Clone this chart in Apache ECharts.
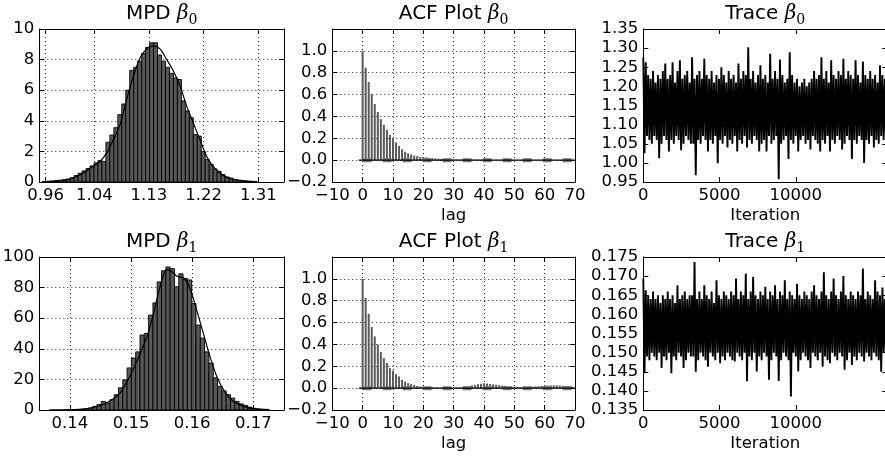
<!DOCTYPE html>
<html>
<head>
<meta charset="utf-8">
<script src="https://cdn.jsdelivr.net/npm/echarts@6/dist/echarts.min.js"></script>
<style>
  html, body { margin: 0; padding: 0; background: #fff; }
  #main { width: 885px; height: 457px; }
</style>
</head>
<body>
<div id="main"></div>
<script>
// ---- MPD beta0 histogram (bin start, bin width, heights) + density curve
var histB0Start = 0.9545, histB0Width = 0.00654;
var histB0 = [0.03, 0.05, 0.07, 0.09, 0.12, 0.15, 0.2, 0.28, 0.42, 0.57, 0.72, 0.88, 1.05, 1.25, 1.4, 1.35,
  2.6, 3.07, 3.55, 4.4, 5.1, 6.0, 7.3, 7.5, 7.9, 8.4, 8.8, 9.1, 9.1, 8.3, 7.9, 7.5, 7.1, 6.8, 6.7, 5.3,
  4.65, 4.2, 3.1, 3.0, 2.0, 1.47, 1.14, 0.85, 0.7, 0.48, 0.33, 0.26, 0.15, 0.12, 0.09, 0.06, 0.04, 0.02];
var kdeB0X = [0.955, 0.975, 0.9946, 1.0165, 1.033, 1.0494, 1.0605, 1.0713, 1.0824, 1.0934, 1.1042, 1.1153, 1.1263, 1.1372,
  1.1482, 1.1592, 1.1701, 1.1811, 1.1921, 1.203, 1.214, 1.2251, 1.236, 1.247, 1.258, 1.2689, 1.2853, 1.3074];
var kdeB0Y = [0.02, 0.05, 0.13, 0.46, 0.9, 1.34, 1.9, 2.76, 3.75, 5.4, 6.9, 8.1, 8.7, 8.9,
  8.7, 8.0, 7.26, 6.3, 4.96, 3.86, 2.76, 1.67, 1.0, 0.57, 0.3, 0.18, 0.07, 0.02];
var histB0Ticks = [0.96, 1.04, 1.13, 1.22, 1.31];

// ---- MPD beta1
var histB1Start = 0.136678, histB1Width = 0.000704;
var histB1 = [0.05, 0.08, 0.1, 0.15, 0.2, 0.3, 0.4, 0.5, 0.8, 1.3, 2.4, 3.5, 5.6, 4.6, 6.7, 10, 14.5, 19.7, 27.5, 34, 38,
  49, 50, 62, 70, 83.7, 91, 93.5, 92.4, 80.5, 89, 86, 85, 69.6, 55.5, 47, 38, 30.6, 21, 15.4, 12.5, 10, 7.8, 5.6,
  4.0, 3.0, 1.8, 1.1, 0.6, 0.3, 0.15];
var kdeB1X = [0.1395, 0.1422, 0.1449, 0.1465, 0.1482, 0.1498, 0.1515, 0.1526, 0.1536, 0.1547, 0.1558, 0.1566,
  0.1575, 0.1586, 0.1596, 0.1607, 0.1618, 0.1629, 0.164, 0.1651, 0.1667, 0.1684, 0.17, 0.1726];
var kdeB1Y = [0.2, 0.65, 2.8, 5.7, 11, 22, 37, 48, 62, 80, 91.7, 90.6,
  87.4, 86.3, 79.7, 65.6, 50.3, 35, 22, 13.3, 5.7, 2.4, 0.9, 0.2];
var histB1Ticks = [0.14, 0.15, 0.16, 0.17];

// ---- autocorrelation, lag = index
var acfB0 = [1.0, 0.846, 0.714, 0.606, 0.514, 0.44, 0.375, 0.323, 0.277, 0.23, 0.2, 0.163, 0.13, 0.1, 0.077,
  0.062, 0.052, 0.043, 0.037, 0.031, 0.028, 0.025, 0.02, 0.018, 0.015, 0.013, 0.011, 0.01, 0.009, 0.008,
  0.006, 0.005, 0.004, 0.004, 0.003, 0.003, 0.002, 0.003, 0.004, 0.003, 0.002, 0.002, 0.001, 0.002, 0.003,
  0.002, 0.002, 0.001, 0.001, 0.002, 0.001, 0.0, 0.001, 0.002, 0.001, 0.001, 0.0, 0.001, 0.002, 0.001,
  0.001, 0.0, 0.001, 0.001, 0.002, 0.001, 0.0, 0.001, 0.001, 0.0];
var acfB1 = [1.0, 0.826, 0.68, 0.56, 0.474, 0.4, 0.33, 0.275, 0.23, 0.183, 0.16, 0.128, 0.107, 0.076, 0.06,
  0.046, 0.037, 0.028, 0.02, 0.015, 0.012, 0.01, 0.008, 0.006, 0.005, 0.004, 0.003, 0.002, 0.002, 0.003,
  0.004, 0.005, 0.007, 0.01, 0.015, 0.02, 0.025, 0.03, 0.036, 0.04, 0.045, 0.042, 0.038, 0.034, 0.03,
  0.027, 0.024, 0.021, 0.018, 0.015, 0.013, 0.01, 0.008, 0.007, 0.008, 0.01, 0.013, 0.016, 0.018, 0.02,
  0.022, 0.024, 0.025, 0.026, 0.025, 0.024, 0.022, 0.02, 0.017, 0.014];
var acfXTicks = [-10, 0, 10, 20, 30, 40, 50, 60, 70];
var acfYTicks = [-0.2, 0.0, 0.2, 0.4, 0.6, 0.8, 1.0];

// ---- traces, one value every traceStep iterations
var traceStep = 80;
var traceB0 = [
  1.276, 1.025, 1.263, 1.07, 1.23, 1.06, 1.22, 1.05, 1.24, 1.07,
  1.21, 1.06, 1.23, 1.012, 1.22, 1.05, 1.24, 1.07, 1.26, 1.06,
  1.22, 1.03, 1.23, 1.06, 1.263, 1.05, 1.21, 1.07, 1.24, 1.06,
  1.268, 1.033, 1.22, 1.05, 1.23, 1.07, 1.24, 1.06, 1.21, 1.05,
  1.276, 1.05, 1.22, 0.968, 1.23, 1.06, 1.24, 1.05, 1.22, 1.07,
  1.272, 1.06, 1.23, 1.03, 1.22, 1.06, 1.24, 1.05, 1.21, 1.07,
  1.23, 0.999, 1.22, 1.06, 1.25, 1.05, 1.23, 1.07, 1.21, 1.04,
  1.24, 1.06, 1.22, 1.05, 1.23, 1.07, 1.21, 1.03, 1.26, 1.06,
  1.22, 1.05, 1.24, 1.07, 1.23, 1.04, 1.302, 1.06, 1.22, 1.05,
  1.24, 1.07, 1.21, 1.06, 1.23, 1.03, 1.255, 1.05, 1.22, 1.06,
  1.23, 1.03, 1.21, 1.07, 1.285, 1.05, 1.22, 1.06, 1.24, 1.07,
  1.22, 0.957, 1.27, 1.05, 1.23, 1.06, 1.21, 1.07, 1.22, 1.01,
  1.289, 1.06, 1.23, 1.05, 1.21, 1.07, 1.22, 1.03, 1.2, 1.06,
  1.21, 1.07, 1.22, 1.05, 1.2, 1.06, 1.21, 1.035, 1.22, 1.07,
  1.24, 1.06, 1.22, 1.05, 1.23, 1.03, 1.276, 1.06, 1.22, 1.05,
  1.24, 1.07, 1.21, 1.03, 1.268, 1.06, 1.23, 1.05, 1.22, 1.07,
  1.24, 1.06, 1.23, 1.035, 1.272, 1.05, 1.22, 1.07, 1.24, 1.06,
  1.23, 1.01, 1.22, 1.06, 1.268, 1.05, 1.23, 1.07, 1.21, 1.06,
  1.265, 1.0, 1.23, 1.06, 1.22, 1.05, 1.24, 1.07, 1.22, 1.04,
  1.23, 1.06, 1.21, 1.05, 1.255, 1.07, 1.23, 1.06, 1.22, 1.05];
var traceB1 = [
  0.1694, 0.1446, 0.1663, 0.149, 0.165, 0.148, 0.164, 0.150, 0.166, 0.149,
  0.164, 0.148, 0.165, 0.150, 0.163, 0.146, 0.165, 0.149, 0.164, 0.148,
  0.166, 0.150, 0.164, 0.1446, 0.165, 0.149, 0.163, 0.148, 0.1676, 0.150,
  0.164, 0.149, 0.165, 0.146, 0.166, 0.148, 0.164, 0.150, 0.165, 0.149,
  0.165, 0.149, 0.1737, 0.145, 0.164, 0.148, 0.166, 0.150, 0.164, 0.149,
  0.1676, 0.148, 0.165, 0.1463, 0.164, 0.150, 0.166, 0.149, 0.163, 0.148,
  0.1689, 0.150, 0.165, 0.1472, 0.164, 0.149, 0.166, 0.148, 0.165, 0.150,
  0.164, 0.149, 0.166, 0.148, 0.165, 0.1477, 0.1694, 0.150, 0.164, 0.149,
  0.166, 0.148, 0.165, 0.150, 0.1707, 0.1425, 0.164, 0.149, 0.166, 0.148,
  0.1698, 0.150, 0.165, 0.1451, 0.164, 0.149, 0.166, 0.148, 0.165, 0.150,
  0.1672, 0.149, 0.164, 0.1429, 0.166, 0.148, 0.165, 0.150, 0.1676, 0.149,
  0.164, 0.1426, 0.166, 0.148, 0.165, 0.150, 0.1689, 0.149, 0.164, 0.148,
  0.166, 0.1385, 0.165, 0.150, 0.164, 0.149, 0.168, 0.1451, 0.165, 0.148,
  0.164, 0.150, 0.166, 0.149, 0.165, 0.148, 0.164, 0.146, 0.166, 0.150,
  0.1676, 0.149, 0.165, 0.148, 0.164, 0.150, 0.166, 0.1463, 0.171, 0.149,
  0.165, 0.148, 0.164, 0.1472, 0.166, 0.150, 0.1694, 0.149, 0.165, 0.148,
  0.164, 0.150, 0.166, 0.149, 0.170, 0.1455, 0.165, 0.148, 0.164, 0.150,
  0.166, 0.1468, 0.165, 0.149, 0.164, 0.148, 0.166, 0.150, 0.165, 0.149,
  0.172, 0.1477, 0.164, 0.150, 0.166, 0.149, 0.165, 0.148, 0.164, 0.150,
  0.1689, 0.149, 0.166, 0.148, 0.165, 0.145, 0.167, 0.150, 0.164, 0.149];
var traceXTicks = [0, 5000, 10000];
var traceB0Ticks = [0.95, 1.0, 1.05, 1.1, 1.15, 1.2, 1.25, 1.3, 1.35];
var traceB1Ticks = [0.135, 0.14, 0.145, 0.15, 0.155, 0.16, 0.165, 0.17, 0.175];

var FONT = "DejaVu Sans";
var FS = 16.5;

function minus(s) { return String(s).replace("-", "\u2212"); }

var grids = [
  { left: 39.3, top: 29, width: 244.7, height: 153 },
  { left: 332.3, top: 29, width: 242.7, height: 153 },
  { left: 643.3, top: 29, width: 244, height: 153 },
  { left: 39.3, top: 257, width: 244.7, height: 153 },
  { left: 332.3, top: 257, width: 242.7, height: 153 },
  { left: 643.3, top: 257, width: 244, height: 153 }
];

var xAxes = [], yAxes = [];
function addAxes(gi, xc, yc) {
  var tick = { show: true, inside: true, length: 5, lineStyle: { color: "#000", width: 1 } };
  var line = { show: true, onZero: false, lineStyle: { color: "#000", width: 1 } };
  var split = { show: xc.grid, lineStyle: { color: "#222", width: 1, type: [1, 3] } };
  xAxes.push({
    gridIndex: gi, type: "value", position: "bottom", min: xc.min, max: xc.max,
    axisLine: line, axisTick: Object.assign({ customValues: xc.ticks }, tick),
    axisLabel: { customValues: xc.ticks, margin: 5, color: "#000", fontFamily: FONT, fontSize: FS,
      formatter: function (v) { return minus(xc.fmt(v)); } },
    splitLine: split,
    name: xc.name || "", nameLocation: "middle", nameGap: 25,
    nameTextStyle: { color: "#000", fontFamily: FONT, fontSize: FS }
  });
  xAxes.push({
    gridIndex: gi, type: "value", position: "top", min: xc.min, max: xc.max,
    axisLine: line, axisTick: Object.assign({ customValues: xc.ticks }, tick),
    axisLabel: { show: false }, splitLine: { show: false }
  });
  yAxes.push({
    gridIndex: gi, type: "value", position: "left", min: yc.min, max: yc.max,
    axisLine: line, axisTick: Object.assign({ customValues: yc.ticks }, tick),
    axisLabel: { customValues: yc.ticks, margin: 5, color: "#000", fontFamily: FONT, fontSize: FS,
      formatter: function (v) { return minus(yc.fmt(v)); } },
    splitLine: { show: yc.grid, lineStyle: { color: "#222", width: 1, type: [1, 3] } }
  });
  yAxes.push({
    gridIndex: gi, type: "value", position: "right", min: yc.min, max: yc.max,
    axisLine: line, axisTick: Object.assign({ customValues: yc.ticks }, tick),
    axisLabel: { show: false }, splitLine: { show: false }
  });
}

function f2(v) { return v.toFixed(2); }
function f1(v) { return v.toFixed(1); }
function f3(v) { return v.toFixed(3); }
function fi(v) { return String(Math.round(v)); }

addAxes(0, { min: 0.9495, max: 1.3523, ticks: histB0Ticks, fmt: f2, grid: true },
           { min: 0, max: 10, ticks: [0, 2, 4, 6, 8, 10], fmt: fi, grid: true });
addAxes(1, { min: -10, max: 70, ticks: acfXTicks, fmt: fi, grid: true, name: "lag" },
           { min: -0.2, max: 1.2, ticks: acfYTicks, fmt: f1, grid: true });
addAxes(2, { min: 0, max: 16000, ticks: traceXTicks, fmt: fi, grid: false, name: "Iteration" },
           { min: 0.95, max: 1.35, ticks: traceB0Ticks, fmt: f2, grid: false });
addAxes(3, { min: 0.135, max: 0.175, ticks: histB1Ticks, fmt: f2, grid: true },
           { min: 0, max: 100, ticks: [0, 20, 40, 60, 80, 100], fmt: fi, grid: true });
addAxes(4, { min: -10, max: 70, ticks: acfXTicks, fmt: fi, grid: true, name: "lag" },
           { min: -0.2, max: 1.2, ticks: acfYTicks, fmt: f1, grid: true });
addAxes(5, { min: 0, max: 16000, ticks: traceXTicks, fmt: fi, grid: false, name: "Iteration" },
           { min: 0.135, max: 0.175, ticks: traceB1Ticks, fmt: f3, grid: false });

function histSeries(gi, start, width, heights) {
  return {
    type: "custom", xAxisIndex: 2 * gi, yAxisIndex: 2 * gi, clip: true,
    data: heights.map(function (h, i) { return [start + i * width, start + (i + 1) * width, h]; }),
    encode: { x: [0, 1], y: 2 },
    renderItem: function (params, api) {
      var p0 = api.coord([api.value(0), api.value(2)]);
      var p1 = api.coord([api.value(1), 0]);
      return {
        type: "rect",
        shape: { x: p0[0], y: p0[1], width: p1[0] - p0[0], height: p1[1] - p0[1] },
        style: { fill: "#585858", stroke: "#000", lineWidth: 0.9 }
      };
    }
  };
}
function kdeSeries(gi, xs, ys) {
  return {
    type: "line", xAxisIndex: 2 * gi, yAxisIndex: 2 * gi, smooth: 0.3, symbol: "none",
    data: xs.map(function (x, i) { return [x, ys[i]]; }),
    lineStyle: { color: "#000", width: 1.2 }, z: 3
  };
}
function acfSeries(gi, vals) {
  return [
    {
      type: "bar", xAxisIndex: 2 * gi, yAxisIndex: 2 * gi, barWidth: 2,
      data: vals.map(function (v, i) { return [i, v]; }),
      itemStyle: { color: "#5a5a5a" }
    },
    {
      type: "line", xAxisIndex: 2 * gi, yAxisIndex: 2 * gi, symbol: "none",
      data: [[0, 0], [70, 0]],
      lineStyle: { color: "#7a7a7a", width: 4, type: [9, 11] }, z: 3
    },
    {
      type: "line", xAxisIndex: 2 * gi, yAxisIndex: 2 * gi, symbol: "none",
      data: [[-1.3, 0], [70, 0]],
      lineStyle: { color: "#000", width: 1.3 }, z: 4
    }
  ];
}
function traceSeries(gi, vals) {
  return {
    type: "line", xAxisIndex: 2 * gi, yAxisIndex: 2 * gi, symbol: "none", sampling: null,
    data: vals.map(function (v, i) { return [i * traceStep, v]; }),
    lineStyle: { color: "#000", width: 1.9, join: "miter" }
  };
}

var rich = {
  t: { fontFamily: FONT, fontSize: 20, lineHeight: 26, color: "#000" },
  b: { fontFamily: "DejaVu Serif", fontStyle: "italic", fontSize: 20, lineHeight: 26, color: "#000" },
  s: { fontFamily: "DejaVu Serif", fontSize: 14, lineHeight: 14, verticalAlign: "bottom", color: "#000" }
};
function title(txt, sub, gi, top) {
  var g = grids[gi];
  return {
    text: "{t|" + txt + " }{b|\u03b2}{s|" + sub + "}",
    left: g.left + g.width / 2, top: top, textAlign: "center", padding: 0,
    textStyle: { rich: rich, fontFamily: FONT, fontSize: 20, fontWeight: "normal", color: "#000" }
  };
}

var chart = echarts.init(document.getElementById("main"), null, { renderer: "canvas" });
chart.setOption({
  animation: false,
  backgroundColor: "#fff",
  title: [
    title("MPD", "0", 0, 1), title("ACF Plot", "0", 1, 1), title("Trace", "0", 2, 1),
    title("MPD", "1", 3, 229), title("ACF Plot", "1", 4, 229), title("Trace", "1", 5, 229)
  ],
  grid: grids.map(function (g) {
    return Object.assign({ containLabel: false, outerBoundsMode: "none", show: false }, g);
  }),
  xAxis: xAxes,
  yAxis: yAxes,
  series: [
    histSeries(0, histB0Start, histB0Width, histB0),
    kdeSeries(0, kdeB0X, kdeB0Y),
    histSeries(3, histB1Start, histB1Width, histB1),
    kdeSeries(3, kdeB1X, kdeB1Y),
    traceSeries(2, traceB0),
    traceSeries(5, traceB1)
  ].concat(acfSeries(1, acfB0), acfSeries(4, acfB1))
});
</script>
</body>
</html>
